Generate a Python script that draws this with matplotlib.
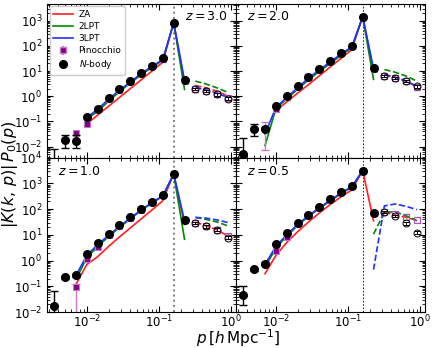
import numpy as np
import matplotlib
matplotlib.use('Agg')
import matplotlib.pyplot as plt

# p bins [h/Mpc]
p = np.array([0.00354, 0.005, 0.00707, 0.01, 0.0141, 0.02, 0.0283, 0.04,
              0.0566, 0.08, 0.113, 0.16, 0.226, 0.32, 0.453, 0.64, 0.905])
k_peak = 0.16

# ---- z = 3.0 ----
nb_z3 = [0.002, 0.018, 0.016, 0.144, 0.32, 0.83, 1.9, 3.9, 8.5, 16.5, 33, 840, 4.3]
nb_lo_z3 = [0.0005, 0.0089, 0.0089]
nb_hi_z3 = [0.0081, 0.029, 0.029]
nb_open_z3 = [1.9, 1.6, 1.2, 0.8]
pin_z3 = [0.035, 0.08, 0.3, 0.8, 1.8, 3.7, 8.2, 16, 31, 800, 4.2]
pin_open_z3 = [1.9, 1.6, 1.25, 0.85]
za_z3 = [-1.1, -0.75, -0.4, -0.05, 0.3, 0.65, 1.0, 1.35, 2.92, 0.55]           # log10, idx 3..12
lpt2_z3 = [-0.9, -0.6, -0.2, 0.18, 0.52, 0.85, 1.14, 1.43, 2.92, 0.27]
lpt3_z3 = [-0.85, -0.52, -0.12, 0.24, 0.56, 0.9, 1.18, 1.46, 2.92, 0.63]
za_d_z3 = [0.43, 0.33, 0.2, 0.0]                                                # log10, idx 13..16
lpt2_d_z3 = [0.6, 0.48, 0.33, 0.15]
lpt3_d_z3 = [0.35, 0.25, 0.12, -0.05]

# ---- z = 2.0 ----
nb_z2 = [0.005, 0.052, 0.052, 0.4, 1.0, 2.5, 5.9, 12.3, 26, 52, 100, 1440, 12.6]
nb_lo_z2 = [0.0045, 0.027, 0.045]
nb_hi_z2 = [0.021, 0.078, 0.06]
nb_open_z2 = [6.6, 5.4, 4.0, 2.5]
pin_z2 = [0.052, 0.3, 0.9, 2.3, 5.6, 11.8, 25, 50, 97, 1400, 12.3]
pin_lo_z2, pin_hi_z2 = 0.007, 0.095
pin_open_z2 = [6.4, 5.2, 3.9, 2.4]
za_z2 = [-0.58, -0.23, 0.12, 0.46, 0.81, 1.16, 1.5, 1.85, 3.16, 1.0]           # idx 3..12
lpt2_z2 = [-1.96, -0.5, -0.1, 0.27, 0.65, 0.98, 1.3, 1.62, 1.93, 3.16, 0.67]   # idx 2..12
lpt3_z2 = [-1.5, -0.45, -0.05, 0.33, 0.72, 1.04, 1.36, 1.67, 1.96, 3.16, 1.1]
za_d_z2 = [0.85, 0.75, 0.6, 0.4]
lpt2_d_z2 = [1.06, 0.95, 0.8, 0.6]
lpt3_d_z2 = [0.86, 0.75, 0.6, 0.37]

# ---- z = 1.0 ----
nb_z1 = [0.017, 0.22, 0.27, 1.8, 4.8, 10.7, 24, 48, 100, 195, 355, 2350, 39]
nb_lo_z1 = [0.003, 0.19, 0.23]
nb_hi_z1 = [0.065, 0.25, 0.31]
nb_open_z1 = [30, 21.5, 15.9, 7.9]
pin_z1 = [0.09, 1.2, 3.3, 10, 23, 46, 96, 190, 345, 2300, 38]
pin_lo_z1, pin_hi_z1 = 0.001, 0.12
pin_open_z1 = [30, 22, 16, 9]
za_z1 = [-0.92, -0.15, 0.15, 0.55, 0.92, 1.27, 1.62, 1.97, 2.33, 3.37, 1.4]    # idx 2..12
lpt2_z1 = [-0.73, 0.12, 0.55, 0.93, 1.29, 1.62, 1.95, 2.24, 2.5, 3.37, 0.83]
lpt3_z1 = [-0.57, 0.2, 0.62, 0.98, 1.33, 1.65, 1.97, 2.26, 2.52, 3.37, 1.55]
za_d_z1 = [1.5, 1.35, 1.2, 0.95]
lpt2_d_z1 = [1.68, 1.6, 1.5, 1.35]
lpt3_d_z1 = [1.68, 1.65, 1.58, 1.48]

# ---- z = 0.5 ----
nb_z05 = [0.047, 0.46, 0.76, 4.4, 11.7, 28, 60, 117, 245, 480, 820, 3160, 71]
nb_lo_z05 = [0.019, 0.4, 0.66]
nb_hi_z05 = [0.107, 0.53, 0.87]
nb_open_z05 = [76, 53, 28, 12.3]
pin_z05 = [0.76, 2.4, 8, 27, 58, 114, 240, 470, 800, 3100, 68]
pin_open_z05 = [76, 63, 50, 37]
za_z05 = [-0.51, 0.2, 0.7, 1.12, 1.5, 1.85, 2.18, 2.48, 2.75, 3.5, 1.55]       # idx 2..12
lpt2_z05 = [-0.25, 0.48, 0.95, 1.36, 1.72, 2.02, 2.32, 2.6, 2.86, 3.5]          # idx 2..11
lpt3_z05 = [-0.15, 0.55, 1.0, 1.4, 1.75, 2.05, 2.35, 2.62, 2.88, 3.5]
za_d_z05 = [1.88, 1.77, 1.68, 1.57]                                              # idx 13..16
lpt2_d_z05 = [1.03, 1.88, 1.9, 1.74, 1.55]                                      # idx 12..16
lpt3_d_z05 = [-0.35, 2.13, 2.2, 2.11, 1.98]

open_err = [0.1, 0.1, 0.12, 0.14]   # relative half-size of error bars on open points

panels = [
    dict(z='3.0', nb=nb_z3, lo=nb_lo_z3, hi=nb_hi_z3, nbo=nb_open_z3, pin=pin_z3, pino=pin_open_z3,
         pin_err=None, za=(3, za_z3), l2=(3, lpt2_z3), l3=(3, lpt3_z3),
         zad=(13, za_d_z3), l2d=(13, lpt2_d_z3), l3d=(13, lpt3_d_z3)),
    dict(z='2.0', nb=nb_z2, lo=nb_lo_z2, hi=nb_hi_z2, nbo=nb_open_z2, pin=pin_z2, pino=pin_open_z2,
         pin_err=(pin_lo_z2, pin_hi_z2), za=(3, za_z2), l2=(2, lpt2_z2), l3=(2, lpt3_z2),
         zad=(13, za_d_z2), l2d=(13, lpt2_d_z2), l3d=(13, lpt3_d_z2)),
    dict(z='1.0', nb=nb_z1, lo=nb_lo_z1, hi=nb_hi_z1, nbo=nb_open_z1, pin=pin_z1, pino=pin_open_z1,
         pin_err=(pin_lo_z1, pin_hi_z1), za=(2, za_z1), l2=(2, lpt2_z1), l3=(2, lpt3_z1),
         zad=(13, za_d_z1), l2d=(13, lpt2_d_z1), l3d=(13, lpt3_d_z1)),
    dict(z='0.5', nb=nb_z05, lo=nb_lo_z05, hi=nb_hi_z05, nbo=nb_open_z05, pin=pin_z05, pino=pin_open_z05,
         pin_err=None, za=(2, za_z05), l2=(2, lpt2_z05), l3=(2, lpt3_z05),
         zad=(13, za_d_z05), l2d=(12, lpt2_d_z05), l3d=(12, lpt3_d_z05)),
]

RED, GREEN, BLUE = '#ff2020', '#008800', '#2030ff'
PURPLE, PEDGE = '#800080', '#c878c8'

plt.rcParams['font.size'] = 8.5
plt.rcParams['mathtext.fontset'] = 'dejavusans'

fig, axes = plt.subplots(2, 2, figsize=(4.36, 3.48), dpi=100, sharex=True, sharey='row')
fig.subplots_adjust(left=47/436, right=425/436, top=1-3.5/348, bottom=1-312/348,
                    hspace=0, wspace=0)
axes = axes.ravel()

for i, (ax, d) in enumerate(zip(axes, panels)):
    ax.set_xscale('log')
    ax.set_yscale('log')

    # vertical line at k
    if i % 2 == 0:
        ax.axvline(k_peak, color='gray', ls=':', lw=1.4, zorder=1)
    else:
        ax.axvline(k_peak, color='k', ls=(0, (2, 2)), lw=0.6, zorder=1)

    def seg(spec, color, ls):
        s, vals = spec
        ax.plot(p[s:s+len(vals)], 10**np.array(vals), color=color, ls=ls, lw=1.2, zorder=3)

    l_za, = ax.plot([], [], color=RED, lw=1.2, label='ZA')
    l_2, = ax.plot([], [], color=GREEN, lw=1.2, label='2LPT')
    l_3, = ax.plot([], [], color=BLUE, lw=1.2, label='3LPT')
    seg(d['za'], RED, '-')
    seg(d['l2'], GREEN, '-')
    seg(d['l3'], BLUE, '-')
    seg(d['zad'], RED, '--')
    seg(d['l2d'], GREEN, '--')
    seg(d['l3d'], BLUE, '--')

    # Pinocchio filled squares (idx 2..12)
    pin = np.array(d['pin'])
    pp = p[2:2+len(pin)]
    if d['pin_err'] is not None:
        lo, hi = d['pin_err']
        ax.errorbar(pp[:1], pin[:1], yerr=[[pin[0]-lo], [hi-pin[0]]], fmt='none',
                    ecolor=PEDGE, elinewidth=1.0, capsize=3, zorder=4)
    ax.plot(pp, pin, 's', ms=5, mfc=PURPLE, mec=PEDGE, mew=0.8, zorder=4)
    # Pinocchio open squares
    pino = np.array(d['pino'])
    ax.plot(p[13:], pino, 's', ms=5, mfc='none', mec='#b050b0', mew=0.9, zorder=4)

    # N-body filled
    nb = np.array(d['nb'])
    lo = np.array(d['lo'])
    hi = np.array(d['hi'])
    ax.errorbar(p[:3], nb[:3], yerr=[nb[:3]-lo, hi-nb[:3]], fmt='none', ecolor='k',
                elinewidth=1.0, capsize=3, zorder=5)
    ax.plot(p[:len(nb)], nb, 'o', ms=5.5, color='k', zorder=6)
    # N-body open
    nbo = np.array(d['nbo'])
    oe = np.array(open_err)
    ax.errorbar(p[13:], nbo, yerr=nbo*oe, fmt='o', ms=5, mfc='none', mec='k', mew=0.7,
                ecolor='k', elinewidth=0.7, capsize=2.5, zorder=5)

    ax.tick_params(which='both', direction='in', top=True, right=True, labelsize=8.5)
    ax.tick_params(which='major', length=4)
    ax.tick_params(which='minor', length=2)
    ax.tick_params(axis='x', pad=1.5)

    if i == 0:
        ax.text(0.96, 0.955, r'$z = 3.0$', transform=ax.transAxes, ha='right', va='top', fontsize=9)
    else:
        ax.text(0.06, 0.955, r'$z = %s$' % d['z'], transform=ax.transAxes, ha='left', va='top', fontsize=9)

    if i == 0:
        h_nb = ax.errorbar([], [], yerr=[], fmt='o', ms=5.5, color='k', capsize=3, label=r'$N$-body')
        h_pinl = ax.errorbar([], [], yerr=[], fmt='s', ms=5, mfc=PURPLE, mec=PEDGE,
                             ecolor=PEDGE, capsize=3, label='Pinocchio')
        ax.legend(handles=[l_za, l_2, l_3, h_pinl, h_nb], loc='upper left', fontsize=6.5,
                  handlelength=2.2, labelspacing=0.35, borderpad=0.4,
                  handletextpad=0.6, borderaxespad=0.3, framealpha=1)

axes[0].set_xlim(0.0028, 1.17)
axes[0].set_ylim(3.6e-3, 4.8e3)
axes[2].set_ylim(1e-2, 1e4)

fig.text(0.023, 0.5, r'$|K(k,\,p)|\,P_0(p)$', rotation=90, ha='center', va='center', fontsize=11.5)
fig.text(238/436, 1-338/348, r'$p\,[h\,\mathrm{Mpc}^{-1}]$', ha='center', va='center', fontsize=11)

fig.savefig('out.png', dpi=100)
